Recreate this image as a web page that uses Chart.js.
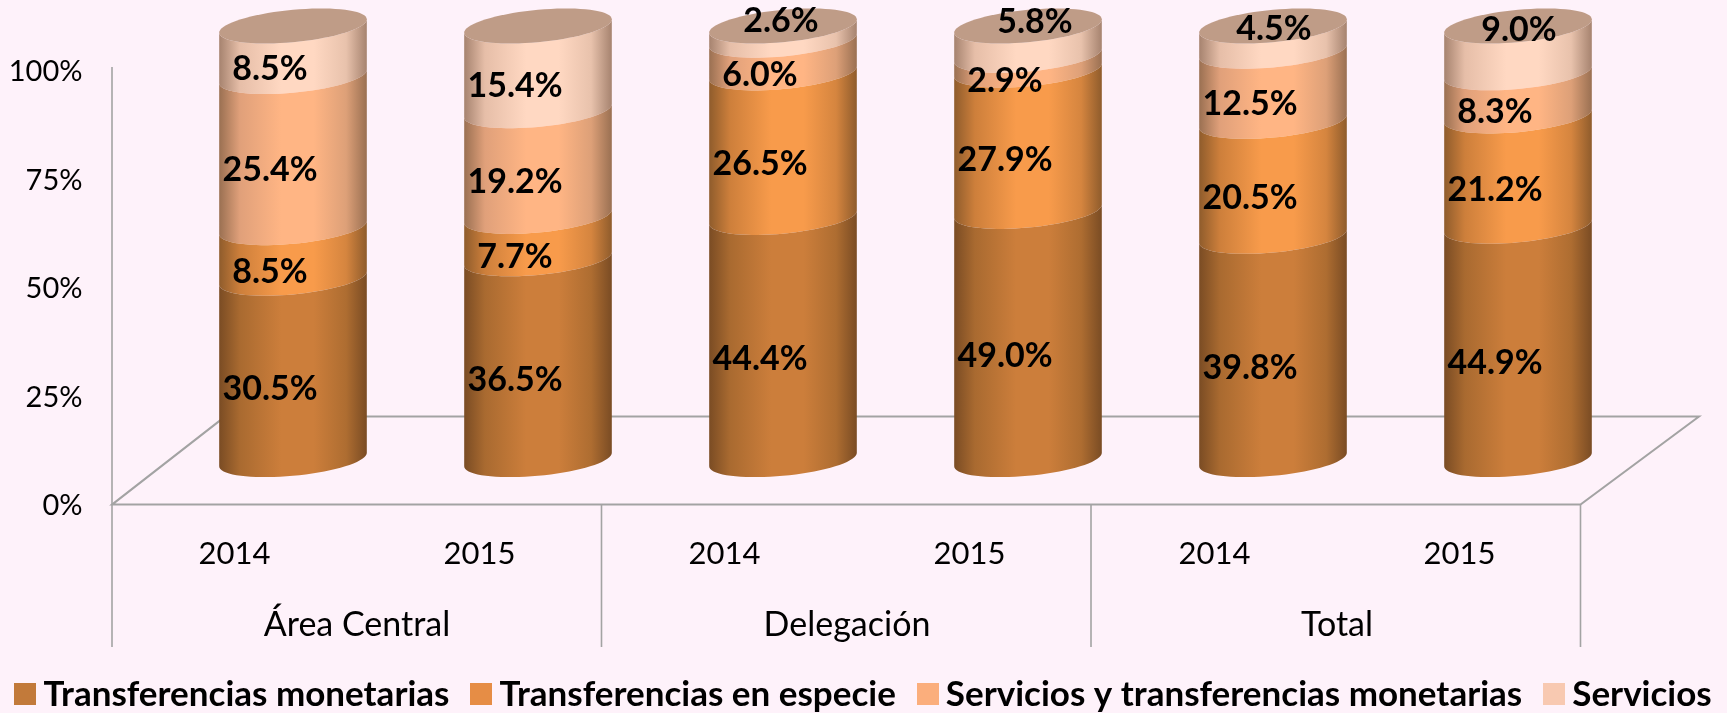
<!DOCTYPE html>
<html><head><meta charset="utf-8">
<script src="https://cdn.jsdelivr.net/npm/chart.js@4"></script>
<style>html,body{margin:0;padding:0;background:#FEF2FA}canvas{display:block}</style>
</head><body>
<div style="width:1727px;height:713px;position:relative"><canvas id="c"></canvas></div>
<script>
const years = ['2014','2015','2014','2015','2014','2015'];
const groups = ['Área Central','Delegación','Total'];
const seriesNames = ['Transferencias monetarias','Transferencias en especie','Servicios y transferencias monetarias','Servicios'];
const monetarias = [30.5,36.5,44.4,49.0,39.8,44.9];
const especie = [8.5,7.7,26.5,27.9,20.5,21.2];
const serviciosTransf = [25.4,19.2,6.0,2.9,12.5,8.3];
const servicios = [8.5,15.4,2.6,5.8,4.5,9.0];
const yTicks = [0,25,50,75,100];

const legendColors = ['#C27A3A','#E68D45','#FBAE7C','#F8C9B1'];
const ramps = [
 ['#7A4C24','#A96A30','#CC7E3B','#CC7E3B','#AE6D31','#7A4C24'],
 ['#8F5C2C','#CD7F3B','#F89B4B','#F89B4B','#D5853F','#8F5C2C'],
 ['#9A7052','#E0A07A','#FFB584','#FFB584','#DDA078','#9A7052'],
 ['#A6836F','#E6BEA8','#FFD8C2','#FFD8C2','#E8C2AC','#A6836F']
];
const LID='#BF9C87', LINE='#A3A3A3';
const DEPTH_X=58.5, DEPTH_Y=45;        // front plane offset of the 3D box
const SHEAR=6.7, ELL_H=16.2;           // tilted ellipse of the cylinders
const labelDrop=[20.5,19,18,18];
const all=[monetarias,especie,serviciosTransf,servicios];
const totals=years.map((_,i)=>all.reduce((s,a)=>s+a[i],0));
const FONT='Lato';

function swatch(color){
  const cv=document.createElement('canvas'); cv.width=22; cv.height=22;
  const g=cv.getContext('2d'); g.fillStyle=color; g.fillRect(0,0,22,22); return cv;
}
function frontArc(ctx,cx,cy,R,forward){
  for(let k=0;k<=36;k++){
    const t=forward? Math.PI-Math.PI*k/36 : Math.PI*k/36;
    ctx.lineTo(cx+R*Math.cos(t), cy+ELL_H*Math.sin(t)-SHEAR*Math.cos(t));
  }
}
// cylinder segments: each bar element keeps its library geometry
Chart.BarElement.prototype.draw=function(ctx){
  const {x,y,base,width}=this, R=width/2;
  ctx.save();
  ctx.fillStyle=this.options.backgroundColor;
  ctx.beginPath();
  frontArc(ctx,x,base,R,true);
  frontArc(ctx,x,y,R,false);
  ctx.closePath(); ctx.fill();
  ctx.restore();
};
const box3d={id:'box3d',
 afterLayout(ch){
  if(ch.legend){ ch.legend.left=-6.4; ch.legend.top+=8.9; }
  ch.scales.x2.bottom+=30;   // room for the label in the scale's clip box
 },
 beforeDatasetsDraw(ch){
  const c=ch.ctx,{x,y}=ch.scales;
  const x0=x.left-DEPTH_X, x1=x.right-DEPTH_X-1.5, yF=y.getPixelForValue(0)+DEPTH_Y, yT=y.getPixelForValue(100)+DEPTH_Y;
  const backY=yF-88, bottom=yF+142.5;
  c.save(); c.strokeStyle=LINE; c.lineWidth=2;
  c.beginPath();
  c.moveTo(x0,yF); c.lineTo(x1,yF); c.lineTo(x1+118.5,backY); c.lineTo(x0+113,backY); c.closePath();
  c.stroke();
  c.lineWidth=1.6; c.beginPath();
  c.moveTo(x0,yT-4); c.lineTo(x0,bottom);
  for(let g=1;g<=groups.length;g++){const px=x0+(x1-x0)*g/groups.length; c.moveTo(px,yF); c.lineTo(px,bottom);}
  c.stroke(); c.restore();
}};
const topNudge={2:[-2,-12],3:[7,-19],4:[1,-10],5:[1,-19]};
const caps={id:'caps',afterDatasetsDraw(ch){
  const c=ch.ctx, top=ch.getDatasetMeta(3).data;
  c.save();
  top.forEach(b=>{
    const R=b.width/2; c.fillStyle=LID; c.beginPath();
    for(let k=0;k<=72;k++){const t=2*Math.PI*k/72; c.lineTo(b.x+R*Math.cos(t), b.y+ELL_H*Math.sin(t)-SHEAR*Math.cos(t));}
    c.closePath(); c.fill();
  });
  c.fillStyle='#000'; c.font='bold 34px '+FONT; c.textAlign='center'; c.textBaseline='middle';
  all.forEach((arr,s)=>{
    ch.getDatasetMeta(s).data.forEach((b,i)=>{
      let dx=-23, dy=labelDrop[s];
      let cy=(b.y+b.base)/2;
      if(s===3 && topNudge[i]){dx=topNudge[i][0]; dy=topNudge[i][1];}
      c.fillText(arr[i].toFixed(1)+'%', b.x+dx, cy+dy);
    });
  });
  c.restore();
}};
const ctx=document.getElementById('c');
new Chart(ctx,{
  type:'bar',
  data:{labels:years,datasets:all.map((arr,s)=>({
    label:seriesNames[s],
    data:arr.map((v,i)=>v/totals[i]*100),
    stack:'a',clip:false,
    backgroundColor(cx){
      const ch=cx.chart, sc=ch.scales.x; if(!sc||!ch.chartArea) return legendColors[s];
      const w=sc.width/years.length*0.6025, px=sc.getPixelForValue(cx.dataIndex);
      const g=ch.ctx.createLinearGradient(px-w/2,0,px+w/2,0), r=ramps[s];
      [0,0.14,0.42,0.64,0.86,1].forEach((p,k)=>g.addColorStop(p,r[k]));
      return g;
    }
  }))},
  options:{
    responsive:true,maintainAspectRatio:false,animation:false,
    layout:{padding:{top:26,right:-70,left:0,bottom:0}},
    datasets:{bar:{barPercentage:1,categoryPercentage:0.6025}},
    scales:{
      x:{stacked:true,grid:{display:false,drawTicks:false},border:{display:false},
         ticks:{autoSkip:false,maxRotation:0,padding:75.3,labelOffset:-DEPTH_X,color:'#000',font:{family:FONT,size:31}},
         afterFit(s){s.height=130}},
      x2:{type:'category',labels:groups,position:'bottom',weight:1,offset:true,grid:{display:false,drawTicks:false},border:{display:false},
         ticks:{autoSkip:false,maxRotation:0,padding:15,labelOffset:-DEPTH_X,color:'#000',font:{family:FONT,size:34}},
         afterFit(s){s.height=47.4}},
      y:{stacked:true,min:0,max:100,grid:{display:false,drawTicks:false},border:{display:false},
         afterBuildTicks(s){s.ticks=yTicks.map(v=>({value:v}))},
         ticks:{padding:88,labelOffset:DEPTH_Y+1,color:'#000',font:{family:FONT,size:29},callback:v=>v+'%'},
         afterFit(s){s.width=170.5;s.paddingTop=0;s.paddingBottom=0}},
      yRight:{position:'right',grid:{display:false,drawTicks:false},border:{display:false},ticks:{display:false},
         afterFit(s){s.width=156.5}}
    },
    plugins:{
      tooltip:{enabled:false},
      legend:{position:'bottom',align:'start',labels:{color:'#000',usePointStyle:true,pointStyleWidth:1.5,boxHeight:22,padding:31,font:{family:FONT,size:35,weight:'bold'},
        generateLabels:()=>seriesNames.map((n,i)=>({text:n,pointStyle:swatch(legendColors[i]),fillStyle:legendColors[i],strokeStyle:legendColors[i],lineWidth:0,datasetIndex:i}))}}
    }
  },
  plugins:[box3d,caps]
});
</script>
</body></html>
